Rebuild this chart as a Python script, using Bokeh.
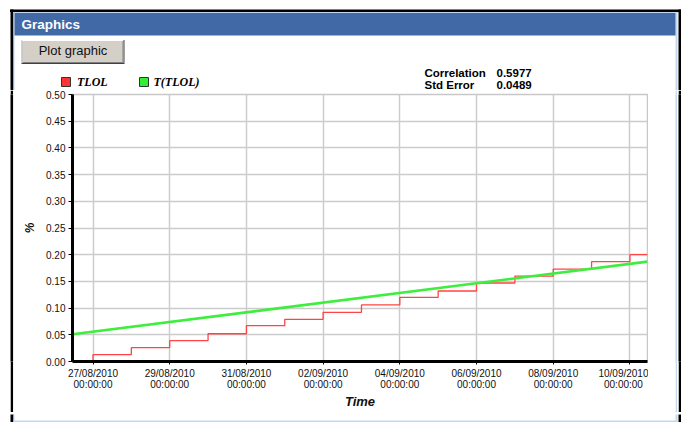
import pandas as pd
from bokeh.plotting import figure
from bokeh.layouts import column, row
from bokeh.models import (Range1d, FixedTicker, DatetimeTickFormatter,
                          PrintfTickFormatter)
from bokeh.core.properties import value
from bokeh.embed import file_html
from bokeh.resources import INLINE

# ---------------- data ----------------
tlol_dates = ["2010-08-27", "2010-08-28", "2010-08-29", "2010-08-30", "2010-08-31",
              "2010-09-01", "2010-09-02", "2010-09-03", "2010-09-04", "2010-09-05",
              "2010-09-06", "2010-09-07", "2010-09-08", "2010-09-09", "2010-09-10"]
tlol_values = [0.013, 0.026, 0.039, 0.052, 0.067, 0.079, 0.092, 0.106,
               0.120, 0.132, 0.147, 0.160, 0.173, 0.187, 0.200]
trend_dates = ["2010-08-26 11:10", "2010-09-10 11:00"]
trend_values = [0.051, 0.187]
x_tick_dates = ["2010-08-27", "2010-08-29", "2010-08-31", "2010-09-02",
                "2010-09-04", "2010-09-06", "2010-09-08", "2010-09-10"]
y_ticks = [0.0, 0.05, 0.10, 0.15, 0.20, 0.25, 0.30, 0.35, 0.40, 0.45, 0.50]
legend_names = ["TLOL", "T(TLOL)"]
series_colors = ["#ff4444", "#3dee3d"]
stats_names = ["Correlation", "Std Error"]
stats_values = ["0.5977", "0.0489"]
title_text = "Graphics"
button_text = "Plot graphic"
x_title = "Time"
y_title = "%"

SANS = "Liberation Sans"
SERIF = "Liberation Serif"
BLUE_LINE = "#c4d8f4"
WHITE = "#ffffff"
BLACK = "#000000"

# ------------- page decorations (page pixel coordinates) -------------
rects = [
    # x0, y0, x1, y1, fill, line
    (9.5, 9, 681, 11.5, BLACK, None),              # outer frame top
    (10, 9, 13, 422, BLACK, None),                 # outer frame left
    (678, 9, 681, 422, BLACK, None),               # outer frame right
    (13, 11.5, 677, 12.5, BLUE_LINE, None),        # panel top
    (13, 11.5, 14, 420, BLUE_LINE, None),          # panel left
    (675, 11.5, 677, 420, BLUE_LINE, None),        # panel right
    (13, 418, 677, 420, BLUE_LINE, None),          # panel bottom
    (14, 12.5, 675, 35, "#4169a5", None),          # header bar
    (21, 39.5, 124, 63.5, "#404040", None),        # button shading
    (21, 39.5, 123, 62.5, "#ffffff", None),
    (22, 40.5, 123, 62.5, "#808080", None),
    (22, 40.5, 122, 61.5, "#d4d0c8", None),
    (61, 77, 70, 86, "#ff3333", "#333333"),         # legend swatch 1
    (139, 77, 148, 86, "#33ee33", "#333333"),       # legend swatch 2
]
texts = [
    # x, y(baseline), text, size px, style, font, color, align
    (21, 28.5, title_text, 13.5, "bold", SANS, "white", "left"),
    (72.5, 55, button_text, 13, "normal", SANS, "#111111", "center"),
    (76.5, 86, legend_names[0], 12, "bold italic", SERIF, "black", "left"),
    (153, 86, legend_names[1], 12, "bold italic", SERIF, "black", "left"),
    (424, 76.5, stats_names[0], 11.5, "bold", SANS, "black", "left"),
    (496, 76.5, stats_values[0], 11.5, "bold", SANS, "black", "left"),
    (424, 89, stats_names[1], 11.5, "bold", SANS, "black", "left"),
    (496, 89, stats_values[1], 11.5, "bold", SANS, "black", "left"),
]


def bare(w, h, color, xr, yr):
    f = figure(width=w, height=h, x_range=xr, y_range=yr, min_border=0,
               toolbar_location=None, output_backend="svg",
               x_axis_location=None, y_axis_location=None,
               outline_line_color=None, background_fill_color=color,
               border_fill_color=color, title=None)
    f.grid.visible = False
    return f


def solid(w, h, color):
    return bare(w, h, color, Range1d(0, 1), Range1d(0, 1))


def deco(x0, x1, y0, y1):
    f = bare(x1 - x0, y1 - y0, WHITE, Range1d(x0, x1), Range1d(y1, y0))
    for (a, b, c, d, fill, line) in rects:
        if c <= x0 or a >= x1 or d <= y0 or b >= y1:
            continue
        f.quad(left=a, right=c, top=b, bottom=d, fill_color=fill,
               line_color=line, line_width=1)
    for (x, y, s, size, style, font, color, align) in texts:
        if not (x0 <= x <= x1 and y0 <= y <= y1):
            continue
        f.text(x=[x], y=[y - 0.35 * size], text=[s], text_font=value(font),
               text_font_size=value(f"{size}px"), text_font_style=value(style),
               text_color=value(color), text_align=value(align),
               text_baseline=value("middle"))
    return f


# ---------------- chart ----------------
x_start = pd.Timestamp("2010-08-26 11:10")
x_end = pd.Timestamp("2010-09-10 11:00")
TOP_H = 90
CHART_H = 322   # page y 90 .. 412

chart = figure(width=634, height=CHART_H,
               x_axis_type="datetime", title=None,
               x_range=Range1d(x_start, x_end), y_range=Range1d(0, 0.5),
               output_backend="svg", toolbar_location=None,
               min_border_left=58, min_border_right=1, min_border_top=4,
               min_border_bottom=51, background_fill_color="white",
               border_fill_color="white", outline_line_color="#c8c8c8",
               outline_line_width=1.5)

step_x = [pd.Timestamp(tlol_dates[0])] + [pd.Timestamp(d) for d in tlol_dates] + \
         [pd.Timestamp(tlol_dates[-1]) + pd.Timedelta(days=1)]
step_y = [0.0] + tlol_values + [tlol_values[-1]]
chart.step(step_x, step_y, mode="after", line_color=series_colors[0], line_width=1.3)
chart.line([pd.Timestamp(d) for d in trend_dates], trend_values,
           line_color=series_colors[1], line_width=2.6)

tick_ms = [int(pd.Timestamp(d).value // 10**6) for d in x_tick_dates]
chart.xaxis.ticker = FixedTicker(ticks=tick_ms)
fmt = "%d/%m/%Y\n%H:%M:%S"
chart.xaxis.formatter = DatetimeTickFormatter(
    microseconds=fmt, milliseconds=fmt, seconds=fmt, minsec=fmt, minutes=fmt,
    hourmin=fmt, hours=fmt, days=fmt, months=fmt, years=fmt)
chart.yaxis.ticker = FixedTicker(ticks=y_ticks)
chart.yaxis.formatter = PrintfTickFormatter(format="%.2f")
for ax in (chart.xaxis, chart.yaxis):
    ax.axis_line_width = 3
    ax.axis_line_color = "black"
    ax.major_tick_line_color = "black"
    ax.major_tick_in = 0
    ax.major_tick_out = 4
    ax.minor_tick_line_color = None
    ax.major_label_text_font = SANS
    ax.major_label_text_font_size = "10px"
    ax.major_label_text_color = "#111111"
    ax.axis_label_text_font = SANS
    ax.axis_label_text_font_style = "bold italic"
    ax.axis_label_text_color = "#111111"
chart.xaxis.major_tick_out = 3
chart.xaxis.major_label_standoff = 3
chart.xaxis.major_label_text_line_height = 1.05
chart.yaxis.major_label_standoff = 3
chart.xaxis.axis_label = x_title
chart.xaxis.axis_label_text_font_size = "13px"
chart.xaxis.axis_label_standoff = 1
chart.yaxis.axis_label = y_title
chart.yaxis.axis_label_text_font_size = "12px"
chart.yaxis.axis_label_standoff = 6
chart.grid.grid_line_color = "#cccccc"
chart.grid.grid_line_width = 1.5

# ---------------- layout ----------------
top = deco(0, 681, 0, TOP_H)
middle = row([solid(10, CHART_H, WHITE), solid(3, CHART_H, BLACK),
              solid(1, CHART_H, BLUE_LINE), chart,
              solid(27, CHART_H, WHITE), solid(2, CHART_H, BLUE_LINE),
              solid(1, CHART_H, WHITE), solid(3, CHART_H, BLACK)])
bottom = deco(0, 681, TOP_H + CHART_H, 422)

p = column(top, middle, bottom)

open("out.html", "w").write(file_html(p, INLINE))
